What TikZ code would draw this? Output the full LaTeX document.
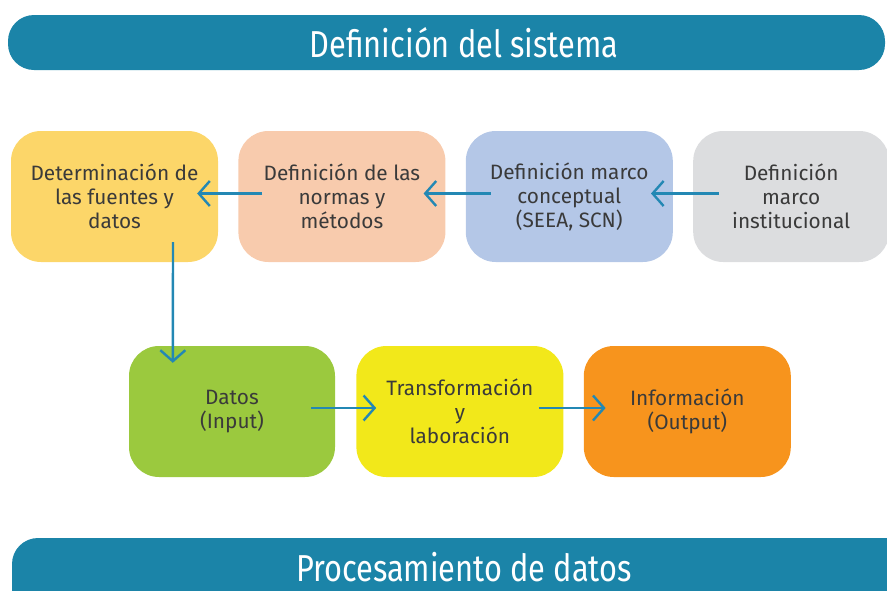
\documentclass[tikz,border=0pt]{standalone}
\usepackage{fontspec}
\setmainfont{Fira Sans}
\newfontfamily\bannerfont[FakeStretch=0.82]{Fira Sans}
\usetikzlibrary{positioning,arrows.meta}

\definecolor{bannerblue}{HTML}{1B84A8}
\definecolor{flowblue}{HTML}{2388B4}
\definecolor{inktext}{HTML}{3A3A3A}
\definecolor{fuentes}{HTML}{FCD669}
\definecolor{normas}{HTML}{F8CBAD}
\definecolor{marcoc}{HTML}{B4C7E7}
\definecolor{marcoi}{HTML}{DCDDDF}
\definecolor{input}{HTML}{9BC93E}
\definecolor{transf}{HTML}{F2E81A}
\definecolor{output}{HTML}{F7941D}

\begin{document}
\begin{tikzpicture}[x=1pt,y=-1pt,
    box/.style={rounded corners=30pt, minimum width=207pt, minimum height=131pt,
      align=center, text=inktext, font=\fontsize{20.8}{24}\selectfont, inner sep=0pt},
    flow/.style={draw=flowblue, line width=2.4pt,
      -{Straight Barb[length=11pt,width=25pt,line width=2.4pt]}},
    banner/.style={fill=bannerblue, rounded corners=26pt},
    title/.style={text=white, font=\bannerfont\fontsize{37.5}{44}\selectfont}
  ]
  \useasboundingbox (0,0) rectangle (887,590);

  % banners
  \fill[banner] (8,15) rectangle (885,70);
  \node[title] (sistema) at (464,43) {Definición del sistema};
  \fill[banner] (12,538) rectangle (920,630);
  \node[title] (proceso) at (464,567) {Procesamiento de datos};

  % top row
  \node[box, fill=fuentes] (fuentes) at (114.5,196.5) {Determinación de\\las fuentes y\\datos};
  \node[box, fill=normas, right=20pt of fuentes] (normas) {Definición de las\\normas y\\métodos};
  \node[box, fill=marcoc, right=20pt of normas] (marcoc) {Definición marco\\conceptual\\(SEEA, SCN)};
  \node[box, fill=marcoi, right=20pt of marcoc, minimum width=196pt] (marcoi) {Definición\\marco\\institucional};

  % bottom row
  \node[box, fill=input, minimum width=206pt] (input) at (232,411.5) {Datos\\(Input)};
  \node[box, fill=transf, right=21pt of input] (transf) {Transformación\\y\\laboración};
  \node[box, fill=output, right=20pt of transf] (output) {Información\\(Output)};

  \draw[flow] ([xshift=24pt,yshift=3pt]normas.west) -- ([xshift=-21pt,yshift=3pt]fuentes.east);
  \draw[flow] ([xshift=25pt,yshift=3pt]marcoc.west) -- ([xshift=-22pt,yshift=3pt]normas.east);
  \draw[flow] ([xshift=26pt,yshift=3pt]marcoi.west) -- ([xshift=-22pt,yshift=3pt]marcoc.east);
  \draw[flow] ([xshift=58.5pt,yshift=20pt]fuentes.south) -- ([xshift=44pt,yshift=-17pt]input.north west);
  \draw[flow] ([xshift=-24pt,yshift=3.5pt]input.east) -- ([xshift=20pt,yshift=3.5pt]transf.west);
  \draw[flow] ([xshift=-25pt,yshift=3.5pt]transf.east) -- ([xshift=22pt,yshift=3.5pt]output.west);
\end{tikzpicture}
\end{document}
